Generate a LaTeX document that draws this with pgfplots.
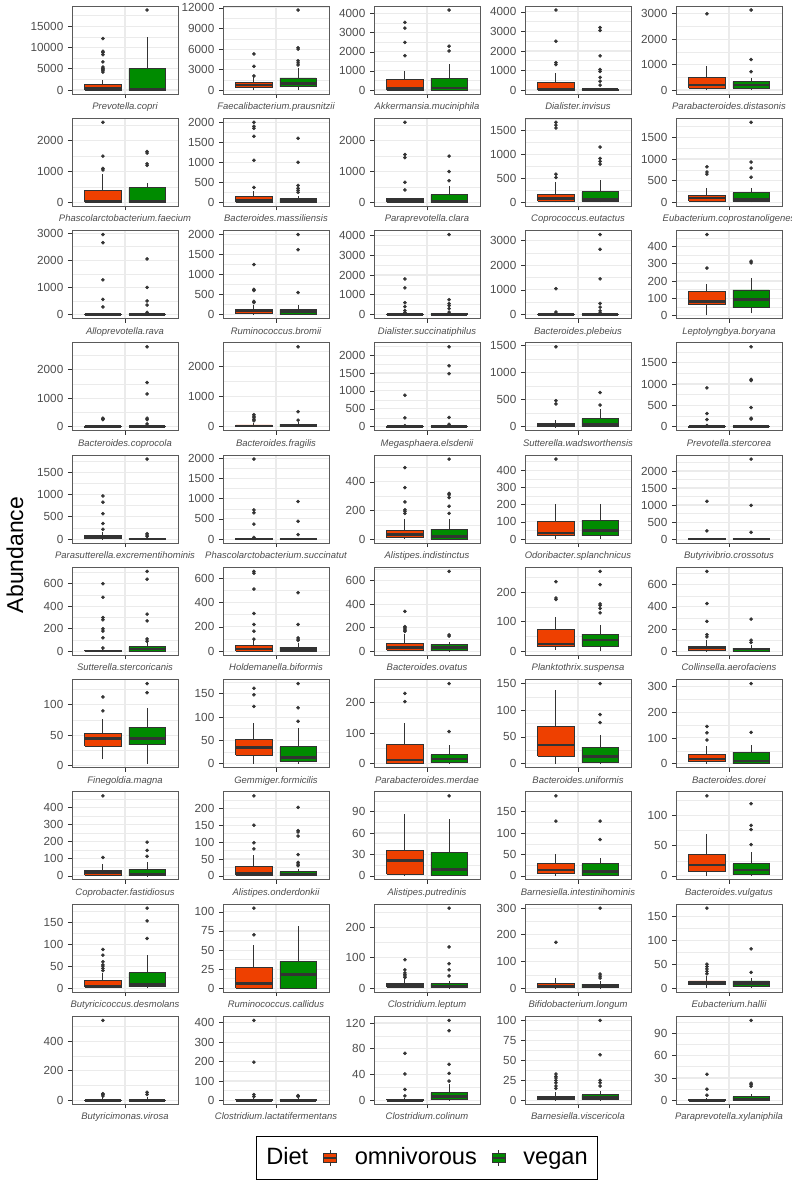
\documentclass[border=0pt]{standalone}
\usepackage{fontspec}
\setmainfont{Liberation Sans}
\usepackage{pgfplots}
\pgfplotsset{compat=1.18}
\usepgfplotslibrary{groupplots}
\definecolor{omni}{HTML}{EE4000}
\definecolor{veg}{HTML}{008B00}
\definecolor{boxline}{HTML}{333333}
\definecolor{gridc}{HTML}{EBEBEB}
\definecolor{txt}{HTML}{4D4D4D}
\definecolor{frame}{HTML}{5A5A5A}
\pgfplotsset{
 whisk/.style={forget plot, draw=boxline, line width=0.7pt, mark=none},
 boxs/.style={forget plot, draw=boxline, line width=0.65pt, mark=none},
 meds/.style={forget plot, draw=boxline, line width=2pt, mark=none},
 outl/.style={forget plot, only marks, mark=*, mark size=1.15pt,
   mark options={fill=boxline, draw=boxline}},
}
% #1 x1, #2 xc, #3 x2, #4 colour, #5 lw, #6 q1, #7 med, #8 q3, #9 uw
\newcommand{\BX}[9]{%
 \addplot[whisk] coordinates {(#2,#5) (#2,#6)};
 \addplot[whisk] coordinates {(#2,#8) (#2,#9)};
 \addplot[boxs, fill=#4] coordinates {(#1,#6) (#3,#6) (#3,#8) (#1,#8) (#1,#6)};
 \addplot[meds] coordinates {(#1,#7) (#3,#7)};}
\newcommand{\OM}[5]{\BX{0.545}{0.75}{0.955}{omni}{#1}{#2}{#3}{#4}{#5}}
\newcommand{\VG}[5]{\BX{1.045}{1.25}{1.455}{veg}{#1}{#2}{#3}{#4}{#5}}
\newcommand{\OUTS}[2]{\def\pts{}%
 \pgfplotsforeachungrouped \v in {#2}{\edef\pts{\pts(#1,\v)}}%
 \edef\tmp{\noexpand\addplot[outl] coordinates {\pts};}\tmp}
\newcommand{\OO}[1]{\OUTS{0.75}{#1}}
\newcommand{\VO}[1]{\OUTS{1.25}{#1}}
\newcommand{\PN}[2]{\nextgroupplot[ytick distance=#2, xticklabels={#1}]}
\newcommand{\keyimg}[1]{%
 \draw[draw=boxline, line width=0.6pt] (4.9pt,3.4pt)--(4.9pt,6pt) (4.9pt,-3.4pt)--(4.9pt,-6pt);
 \draw[fill=#1, draw=boxline, line width=0.6pt] (0pt,-3.4pt) rectangle (9.75pt,3.4pt);
 \draw[draw=boxline, line width=1.2pt] (0pt,0pt)--(9.75pt,0pt);}
\begin{document}
\begin{tikzpicture}
\begin{groupplot}[
 group style={group size=5 by 10, horizontal sep=33.75pt, vertical sep=18.2pt},
 scale only axis, width=79.5pt, height=66pt,
 xmin=0.4, xmax=1.6, xtick={1}, enlarge x limits=false,
 enlarge y limits=0.05,
 scaled y ticks=false,
 /pgf/number format/fixed, /pgf/number format/1000 sep={},
 /pgf/number format/assume math mode=true,
 tick label style={font=\fontsize{8.8}{10}\selectfont, text=txt},
 xticklabel style={font=\fontsize{7.1}{8.5}\selectfont\itshape, text=txt},
 tick align=outside, major tick length=3pt, minor tick length=0pt,
 tick style={draw=boxline, line width=0.55pt},
 tick pos=left,
 grid=both, minor y tick num=1,
 major grid style={draw=gridc, line width=0.8pt},
 minor grid style={draw=gridc, line width=0.4pt},
 axis line style={draw=frame, line width=0.6pt},
]
% Row 1
\PN{Prevotella.copri}{5000}
\OM{0}{0}{300}{1200}{2400}\OO{4200,4500,4700,4900,5100,5400,6600,8300,8800,9100,12100}
\VG{0}{0}{200}{5000}{12400}\VO{18800}
\PN{Faecalibacterium.prausnitzii}{3000}
\OM{50}{400}{800}{1100}{1900}\OO{2100,3500,5300}
\VG{100}{550}{1000}{1800}{3200}\VO{3700,4000,4300,6000,6200,11700}
\PN{Akkermansia.muciniphila}{1000}
\OM{0}{0}{80}{530}{1000}\OO{1800,2500,3250,3550}
\VG{0}{0}{100}{620}{1380}\VO{2050,2300,4200}
\PN{Dialister.invisus}{1000}
\OM{0}{0}{50}{400}{850}\OO{1300,1400,2500,4100}
\VG{0}{0}{10}{50}{110}\VO{250,450,650,950,1050,1750,3050,3200}
\PN{Parabacteroides.distasonis}{1000}
\OM{0}{80}{200}{500}{950}\OO{3000}
\VG{0}{80}{200}{330}{480}\VO{720,1200,3150}
% Row 2
\PN{Phascolarctobacterium.faecium}{1000}
\OM{0}{0}{30}{380}{920}\OO{1050,1100,1500,2600}
\VG{0}{0}{40}{470}{620}\VO{1200,1250,1600,1650}
\PN{Bacteroides.massiliensis}{500}
\OM{0}{0}{50}{150}{280}\OO{370,1050,1650,1850,1900,2000}
\VG{0}{0}{50}{100}{160}\VO{250,300,350,420,1000,1600}
\PN{Paraprevotella.clara}{1000}
\OM{0}{0}{60}{120}{140}\OO{400,650,1450,1550,2600}
\VG{0}{0}{20}{250}{520}\VO{700,1000,1500}
\PN{Coprococcus.eutactus}{500}
\OM{0}{20}{80}{170}{420}\OO{520,590,1560,1620,1680}
\VG{0}{20}{60}{220}{460}\VO{800,860,920,1160}
\PN{Eubacterium.coprostanoligenes}{500}
\OM{0}{30}{100}{160}{330}\OO{650,700,820}
\VG{0}{20}{70}{220}{330}\VO{580,790,930,1850}
% Row 3
\PN{Alloprevotella.rava}{1000}
\OM{0}{0}{0}{20}{40}\OO{280,560,1280,2650,2950}
\VG{0}{0}{0}{20}{50}\VO{80,350,500,1000,2050}
\PN{Ruminococcus.bromii}{500}
\OM{0}{20}{100}{130}{250}\OO{300,330,600,630,1250}
\VG{0}{0}{80}{130}{250}\VO{550,1620,2000}
\PN{Dialister.succinatiphilus}{1000}
\OM{0}{0}{0}{20}{40}\OO{100,200,400,600,1350,1800}
\VG{0}{0}{10}{50}{80}\VO{120,300,450,550,750,4050}
\PN{Bacteroides.plebeius}{1000}
\OM{0}{0}{0}{10}{30}\OO{100,1050}
\VG{0}{0}{0}{20}{40}\VO{70,150,300,450,1450,2650,3250}
\PN{Leptolyngbya.boryana}{100}
\OM{5}{62}{80}{140}{185}\OO{275,470}
\VG{12}{45}{92}{148}{220}\VO{305,315}
% Row 4
\PN{Bacteroides.coprocola}{1000}
\OM{0}{0}{0}{10}{30}\OO{250,280,300}
\VG{0}{0}{0}{10}{30}\VO{100,250,300,1150,1550,2800}
\PN{Bacteroides.fragilis}{1000}
\OM{0}{0}{30}{60}{140}\OO{200,250,300,350,400}
\VG{0}{0}{40}{80}{150}\VO{220,500,2650}
\PN{Megasphaera.elsdenii}{500}
\OM{0}{0}{0}{5}{10}\OO{30,250,880}
\VG{0}{0}{0}{15}{30}\VO{70,260,1480,1700,2230}
\PN{Sutterella.wadsworthensis}{500}
\OM{0}{5}{40}{70}{120}\OO{420,480,1470}
\VG{0}{10}{40}{150}{320}\VO{400,630}
\PN{Prevotella.stercorea}{500}
\OM{0}{0}{0}{5}{10}\OO{30,170,310,910}
\VG{0}{0}{0}{10}{30}\VO{180,200,450,1080,1110,1870}
% Row 5
\PN{Parasutterella.excrementihominis}{500}
\OM{0}{5}{40}{80}{150}\OO{220,350,570,830,970}
\VG{0}{0}{5}{15}{40}\VO{60,90,120,1800}
\PN{Phascolarctobacterium.succinatut}{500}
\OM{0}{0}{0}{10}{20}\OO{40,370,650,720,1980}
\VG{0}{0}{0}{10}{20}\VO{110,440,930}
\PN{Alistipes.indistinctus}{200}
\OM{0}{10}{30}{60}{140}\OO{180,195,205,260,360,500}
\VG{0}{0}{20}{70}{140}\VO{180,230,290,310,320,560}
\PN{Odoribacter.splanchnicus}{100}
\OM{0}{20}{35}{105}{205}\OO{465}
\VG{0}{20}{50}{110}{205}
\PN{Butyrivibrio.crossotus}{500}
\OM{0}{0}{0}{10}{20}\OO{240,1110}
\VG{0}{0}{0}{10}{20}\VO{200,990,2350}
% Row 6
\PN{Sutterella.stercoricanis}{200}
\OM{0}{0}{2}{10}{20}\OO{30,120,180,200,280,300,480,600}
\VG{0}{0}{20}{40}{80}\VO{90,110,270,330,640,710}
\PN{Holdemanella.biformis}{200}
\OM{0}{0}{20}{45}{90}\OO{100,165,220,310,510,640,655}
\VG{0}{0}{15}{35}{70}\VO{90,100,110,220,480}
\PN{Bacteroides.ovatus}{200}
\OM{0}{10}{30}{70}{150}\OO{170,180,190,200,210,340}
\VG{0}{5}{30}{60}{80}\VO{130,140,680}
\PN{Planktothrix.suspensa}{100}
\OM{5}{15}{25}{75}{115}\OO{175,180,235}
\VG{0}{18}{38}{58}{90}\VO{130,145,155,160,225,270}
\PN{Collinsella.aerofaciens}{200}
\OM{0}{5}{30}{45}{100}\OO{130,150,270,430,720}
\VG{0}{0}{20}{30}{60}\VO{80,100,290}
% Row 7
\PN{Finegoldia.magna}{50}
\OM{10}{32}{44}{52}{77}\OO{90,113}
\VG{3}{34}{44}{63}{94}\VO{120,135}
\PN{Gemmiger.formicilis}{50}
\OM{0}{18}{35}{52}{88}\OO{123,148,162}
\VG{0}{5}{13}{36}{77}\VO{91,120,172}
\PN{Parabacteroides.merdae}{100}
\OM{0}{0}{12}{63}{132}\OO{203,230}
\VG{0}{3}{15}{29}{60}\VO{105,262}
\PN{Bacteroides.uniformis}{50}
\OM{0}{14}{35}{70}{138}
\VG{0}{2}{13}{31}{54}\VO{77,92,150}
\PN{Bacteroides.dorei}{100}
\OM{0}{8}{18}{35}{70}\OO{92,120,145}
\VG{0}{0}{10}{45}{72}\VO{122,312}
% Row 8
\PN{Coprobacter.fastidiosus}{100}
\OM{0}{3}{18}{32}{70}\OO{108,470}
\VG{0}{2}{10}{38}{80}\VO{115,150,198}
\PN{Alistipes.onderdonkii}{50}
\OM{0}{2}{8}{27}{63}\OO{80,98,150,237}
\VG{0}{0}{5}{12}{20}\VO{30,35,40,63,118,130,134,203}
\PN{Alistipes.putredinis}{30}
\OM{0}{2}{22}{36}{87}
\VG{0}{1}{9}{33}{79}\VO{112}
\PN{Barnesiella.intestinihominis}{50}
\OM{0}{5}{14}{30}{50}\OO{128,187}
\VG{0}{2}{10}{28}{41}\VO{85,128}
\PN{Bacteroides.vulgatus}{50}
\OM{0}{7}{18}{35}{70}\OO{133}
\VG{0}{2}{10}{20}{40}\VO{52,77,84,120}
% Row 9
\PN{Butyricicoccus.desmolans}{50}
\OM{0}{2}{5}{17}{35}\OO{40,45,50,53,60,75,88}
\VG{0}{3}{8}{35}{75}\VO{113,153,182}
\PN{Ruminococcus.callidus}{25}
\OM{0}{0}{6}{27}{57}\OO{70,105}
\VG{0}{0}{18}{35}{82}
\PN{Clostridium.leptum}{100}
\OM{0}{3}{8}{15}{30}\OO{35,40,45,50,60,93}
\VG{0}{2}{7}{14}{25}\VO{40,60,80,135,262}
\PN{Bifidobacterium.longum}{100}
\OM{0}{2}{8}{18}{37}\OO{172}
\VG{0}{1}{10}{15}{25}\VO{38,45,53,300}
\PN{Eubacterium.hallii}{50}
\OM{0}{7}{10}{15}{25}\OO{30,35,40,45,50,167}
\VG{0}{3}{10}{15}{22}\VO{33,82}
% Row 10
\PN{Butyricimonas.virosa}{200}
\OM{0}{0}{0}{2}{20}\OO{30,40,45,540}
\VG{0}{0}{0}{3}{20}\VO{40,55}
\PN{Clostridium.lactatifermentans}{100}
\OM{0}{0}{0}{5}{10}\OO{20,30,197,412}
\VG{0}{0}{0}{5}{10}\VO{20,25}
\nextgroupplot[ytick distance=40, xticklabels={Clostridium.colinum},
 legend style={at={(0.5,-0.364)}, anchor=north, legend columns=-1,
   draw=black, line width=0.75pt, font=\fontsize{17.7}{21}\selectfont,
   inner xsep=5.5pt, inner ysep=5.5pt,
   nodes={text height=12.8pt, text depth=3.8pt},
   /tikz/every even column/.append style={column sep=9pt},
   /tikz/column 3/.append style={column sep=11pt},
   /tikz/column 5/.append style={column sep=11pt}}]
\OM{0}{0}{0}{2}{4}\OO{7,17,41,73}
\VG{0}{1}{6}{12}{25}\VO{30,42,56,108,124}
\addlegendimage{empty legend}\addlegendentry{Diet}
\addlegendimage{legend image code/.code={\keyimg{omni}}}\addlegendentry{omnivorous}
\addlegendimage{legend image code/.code={\keyimg{veg}}}\addlegendentry{vegan}
\PN{Barnesiella.viscericola}{25}
\OM{0}{1}{4}{5}{10}\OO{15,18,22,25,28,30,33}
\VG{0}{1}{4}{7}{12}\VO{18,22,25,57,100}
\PN{Paraprevotella.xylaniphila}{30}
\OM{0}{0}{0}{1}{3}\OO{7,15,35}
\VG{0}{0}{2}{5}{8}\VO{19,21,23,107}
\end{groupplot}
\pgfresetboundingbox
\useasboundingbox ([xshift=-54pt,yshift=4.5pt]group c1r1.north west) rectangle ([xshift=540pt,yshift=-882pt]group c1r1.north west);
\node[rotate=90, font=\fontsize{17.2}{20}\selectfont] at ([xshift=-42.75pt,yshift=-411.75pt]group c1r1.north west) {Abundance};
\end{tikzpicture}
\end{document}
